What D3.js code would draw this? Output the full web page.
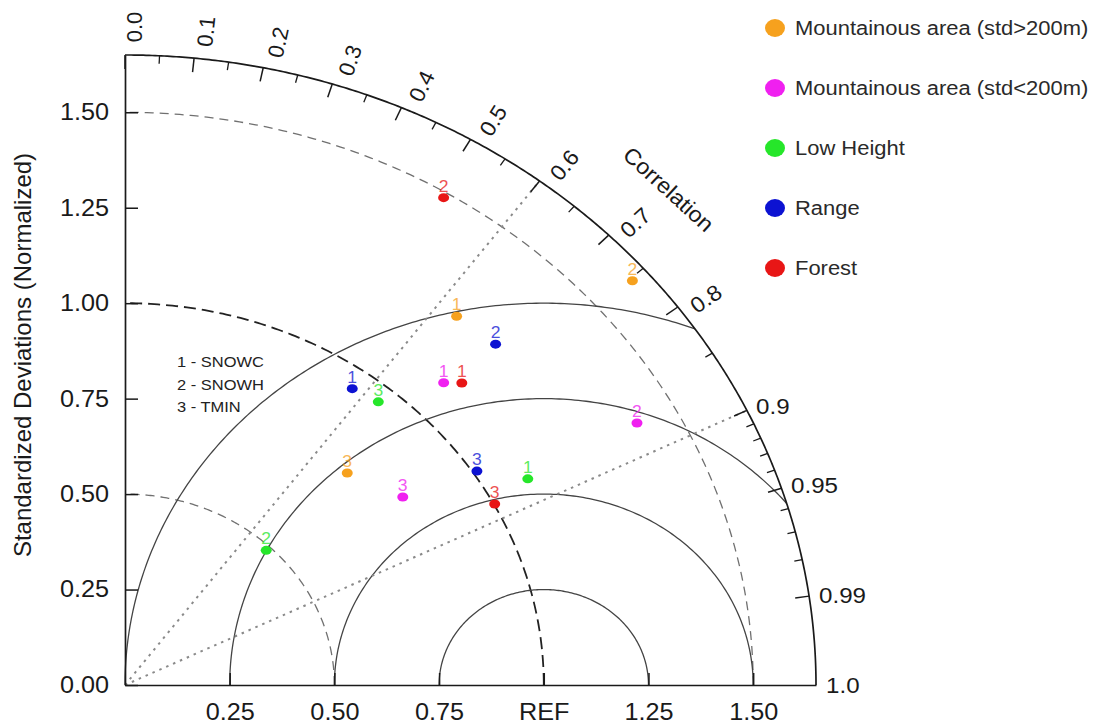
<!DOCTYPE html>
<html>
<head>
<meta charset="utf-8">
<script src="https://cdn.jsdelivr.net/npm/d3@7"></script>
<style>
body { margin: 0; background: #fff; }
text { font-family: "Liberation Sans", Arial, sans-serif; }
</style>
</head>
<body>
<div id="chart"></div>
<script>
// groups (legend) and their colours
const groups = ["Mountainous area (std>200m)", "Mountainous area (std<200m)", "Low Height", "Range", "Forest"];
const groupColors = ["#f6a11e", "#f020f0", "#26e62a", "#0c12d2", "#e81616"];

// variables: index 0 = SNOWC, 1 = SNOWH, 2 = TMIN
const varLabels = ["1", "2", "3"];
const varNames = ["1 - SNOWC", "2 - SNOWH", "3 - TMIN"];

// normalized standard deviation and correlation, one array per group
const stdMountHigh = [1.249, 1.609, 0.768];
const corMountHigh = [0.634, 0.753, 0.691];
const stdMountLow = [1.098, 1.402, 0.826];
const corMountLow = [0.693, 0.872, 0.803];
const stdLowHeight = [1.103, 0.488, 0.957];
const corLowHeight = [0.872, 0.691, 0.632];
const stdRange = [0.947, 1.257, 1.010];
const corRange = [0.573, 0.704, 0.832];
const stdForest = [1.128, 1.486, 1.002];
const corForest = [0.713, 0.512, 0.881];

// axes and reference lines
const stdTicks = [0, 0.25, 0.5, 0.75, 1, 1.25, 1.5];
const refTicks = [0.25, 0.5, 0.75, 1, 1.25, 1.5];
const corMajor = [0, 0.1, 0.2, 0.3, 0.4, 0.5, 0.6, 0.7, 0.8, 0.9, 0.95, 0.99];
const corMinor = [0.05, 0.15, 0.25, 0.35, 0.45, 0.55, 0.65, 0.75, 0.85, 0.91, 0.92, 0.93, 0.94, 0.96, 0.97, 0.98];
const corLabels = ["0.0", "0.1", "0.2", "0.3", "0.4", "0.5", "0.6", "0.7", "0.8", "0.9", "0.95", "0.99", "1.0"];
const corLabelValues = [0, 0.1, 0.2, 0.3, 0.4, 0.5, 0.6, 0.7, 0.8, 0.9, 0.95, 0.99, 1.0];
const rmsCircles = [0.25, 0.5, 0.75, 1.0];
const stdCircles = [0.5, 1.0, 1.5];
const corLines = [0.6, 0.9];
const maxStd = 1.65;

const seriesStd = [stdMountHigh, stdMountLow, stdLowHeight, stdRange, stdForest];
const seriesCor = [corMountHigh, corMountLow, corLowHeight, corRange, corForest];

const points = [];
seriesStd.forEach((arr, g) => {
    arr.forEach((s, i) => points.push({group: g, label: varLabels[i], std: s, cor: seriesCor[g][i]}));
});

const width = 1094, height = 726;
const KX = 1.097; // picture is wider than tall

const svg = d3.select("#chart").append("svg")
    .attr("width", width)
    .attr("height", height);

const x = d3.scaleLinear().domain([0, maxStd]).range([125, 816]);
const y = d3.scaleLinear().domain([0, maxStd]).range([685, 55]);

// polar (std, correlation) to pixels
const px = (r, c) => [x(r * c), y(r * Math.sqrt(Math.max(0, 1 - c * c)))];
const line = d3.line();

function stretch(sel, angleDeg) {
    const a = angleDeg * Math.PI / 180;
    const k = Math.sqrt((KX * Math.cos(a)) ** 2 + Math.sin(a) ** 2);
    sel.each(function() {
        const len = this.getComputedTextLength();
        d3.select(this).attr("textLength", len * k).attr("lengthAdjust", "spacingAndGlyphs");
    });
}

// std circles around origin (dashed)
stdCircles.forEach(r => {
    const pts = d3.range(0, 181).map(i => {
        const t = i / 180 * Math.PI / 2;
        return [x(r * Math.cos(t)), y(r * Math.sin(t))];
    });
    svg.append("path")
        .attr("d", line(pts))
        .attr("fill", "none")
        .attr("stroke", r === 1 ? "#222" : "#707070")
        .attr("stroke-width", r === 1 ? 1.8 : 1.3)
        .attr("stroke-dasharray", r === 1 ? "12,6" : "9,6");
});

// centered RMS circles around REF, clipped to the outer arc
rmsCircles.forEach(r => {
    let c0 = (maxStd * maxStd - 1 - r * r) / (2 * r);
    const phi0 = c0 >= 1 ? 0 : Math.acos(c0);
    const pts = d3.range(0, 201).map(i => {
        const phi = phi0 + (Math.PI - phi0) * i / 200;
        return [x(1 + r * Math.cos(phi)), y(r * Math.sin(phi))];
    });
    svg.append("path")
        .attr("d", line(pts))
        .attr("fill", "none")
        .attr("stroke", "#444")
        .attr("stroke-width", 1.3);
});

// correlation lines (dotted)
corLines.forEach(c => {
    svg.append("path")
        .attr("d", line([px(0, c), px(maxStd, c)]))
        .attr("stroke", "#8a8a8a")
        .attr("stroke-width", 2)
        .attr("stroke-dasharray", "2.5,5");
});

// outer arc
const outer = d3.range(0, 361).map(i => {
    const t = i / 360 * Math.PI / 2;
    return [x(maxStd * Math.cos(t)), y(maxStd * Math.sin(t))];
});
svg.append("path")
    .attr("d", line(outer))
    .attr("fill", "none")
    .attr("stroke", "#1a1a1a")
    .attr("stroke-width", 1.7);

// correlation ticks
function corTick(c, len) {
    const p = px(maxStd, c);
    const o = px(0, c);
    const dx = p[0] - o[0], dy = p[1] - o[1];
    const n = Math.hypot(dx, dy);
    return [p, [p[0] - dx / n * len, p[1] - dy / n * len]];
}
corMajor.forEach(c => {
    svg.append("path").attr("d", line(corTick(c, 14))).attr("stroke", "#1a1a1a").attr("stroke-width", 1.5);
});
corMinor.forEach(c => {
    svg.append("path").attr("d", line(corTick(c, 8))).attr("stroke", "#1a1a1a").attr("stroke-width", 1.3);
});

// correlation labels
corLabelValues.forEach((c, i) => {
    const p = px(maxStd, c);
    const o = px(0, c);
    const ang = Math.atan2(p[1] - o[1], p[0] - o[0]) * 180 / Math.PI;
    if (c <= 0.8) {
        const t = svg.append("text")
            .attr("transform", `translate(${p[0]},${p[1]}) rotate(${ang})`)
            .attr("x", 28).attr("y", 9)
            .attr("dy", "0.35em")
            .attr("text-anchor", "middle")
            .attr("font-size", 22)
            .attr("fill", "#1a1a1a")
            .text(corLabels[i]);
        stretch(t, ang);
    } else {
        const a = ang * Math.PI / 180;
        const t = svg.append("text")
            .attr("x", p[0] + 10 * Math.cos(a))
            .attr("y", p[1] + 10 * Math.sin(a))
            .attr("dy", "0.35em")
            .attr("font-size", 22)
            .attr("fill", "#1a1a1a")
            .text(corLabels[i]);
        stretch(t, 0);
    }
});

// "Correlation" title along the arc
{
    const c = 0.707, r = 1.836;
    const p = px(r, c);
    const th = Math.acos(c);
    const ang = Math.atan2((y(0) - y(1)) * Math.cos(th), (x(1) - x(0)) * Math.sin(th)) * 180 / Math.PI;
    const t = svg.append("text")
        .attr("transform", `translate(${p[0]},${p[1]}) rotate(${ang})`)
        .attr("dy", "0.35em")
        .attr("text-anchor", "middle")
        .attr("font-size", 22)
        .attr("fill", "#1a1a1a")
        .text("Correlation");
    stretch(t, ang);
}

// y axis
const yAxis = svg.append("g")
    .attr("transform", `translate(${x(0)},0)`)
    .call(d3.axisLeft(y).tickValues(stdTicks).tickFormat(d3.format(".2f"))
        .tickSizeInner(-13).tickSizeOuter(0).tickPadding(16));
yAxis.select(".domain").attr("stroke", "#1a1a1a").attr("stroke-width", 1.7);
yAxis.selectAll(".tick line").attr("stroke", "#1a1a1a").attr("stroke-width", 1.5);
yAxis.selectAll("text").attr("font-size", 23).attr("fill", "#1a1a1a").attr("font-family", null);
stretch(yAxis.selectAll("text"), 0);

// x axis
const xAxis = svg.append("g")
    .attr("transform", `translate(0,${y(0)})`)
    .call(d3.axisBottom(x).tickValues(refTicks).tickFormat(d => d === 1 ? "REF" : d3.format(".2f")(d))
        .tickSizeInner(-12).tickSizeOuter(0).tickPadding(19));
xAxis.select(".domain").attr("stroke", "#1a1a1a").attr("stroke-width", 1.7);
xAxis.selectAll(".tick line").attr("stroke", "#1a1a1a").attr("stroke-width", 1.5);
xAxis.selectAll("text").attr("font-size", 23).attr("fill", "#1a1a1a").attr("font-family", null);
stretch(xAxis.selectAll("text"), 0);

// y title
svg.append("text")
    .attr("transform", `translate(23,${(y(0) + y(maxStd)) / 2 - 15}) rotate(-90)`)
    .attr("dy", "0.35em")
    .attr("text-anchor", "middle")
    .attr("font-size", 24)
    .attr("fill", "#1a1a1a")
    .text("Standardized Deviations (Normalized)");

// points and their labels
svg.selectAll(".pt")
    .data(points)
    .enter()
    .append("ellipse")
    .attr("class", "pt")
    .attr("cx", d => px(d.std, d.cor)[0])
    .attr("cy", d => px(d.std, d.cor)[1])
    .attr("rx", 5.5)
    .attr("ry", 4.5)
    .attr("fill", d => groupColors[d.group]);

const ptLabels = svg.selectAll(".ptlab")
    .data(points)
    .enter()
    .append("text")
    .attr("class", "ptlab")
    .attr("x", d => px(d.std, d.cor)[0])
    .attr("y", d => px(d.std, d.cor)[1] - 6)
    .attr("text-anchor", "middle")
    .attr("font-size", 16)
    .attr("fill", d => groupColors[d.group])
    .attr("opacity", 0.75)
    .text(d => d.label);
stretch(ptLabels, 0);

// variable key
const key = svg.selectAll(".key")
    .data(varNames)
    .enter()
    .append("text")
    .attr("class", "key")
    .attr("x", 177)
    .attr("y", (d, i) => 362 + i * 22.5)
    .attr("dy", "0.35em")
    .attr("font-size", 15)
    .attr("fill", "#222")
    .text(d => d);
stretch(key, 0);

// legend
const legend = svg.selectAll(".legend")
    .data(groups)
    .enter()
    .append("g")
    .attr("class", "legend")
    .attr("transform", (d, i) => `translate(775,${28 + i * 60})`);
legend.append("ellipse")
    .attr("rx", 10)
    .attr("ry", 9)
    .attr("fill", (d, i) => groupColors[i]);
const legText = legend.append("text")
    .attr("x", 20)
    .attr("dy", "0.35em")
    .attr("font-size", 20)
    .attr("fill", "#2a2a2a")
    .text(d => d);
stretch(legText, 0);
</script>
</body>
</html>
